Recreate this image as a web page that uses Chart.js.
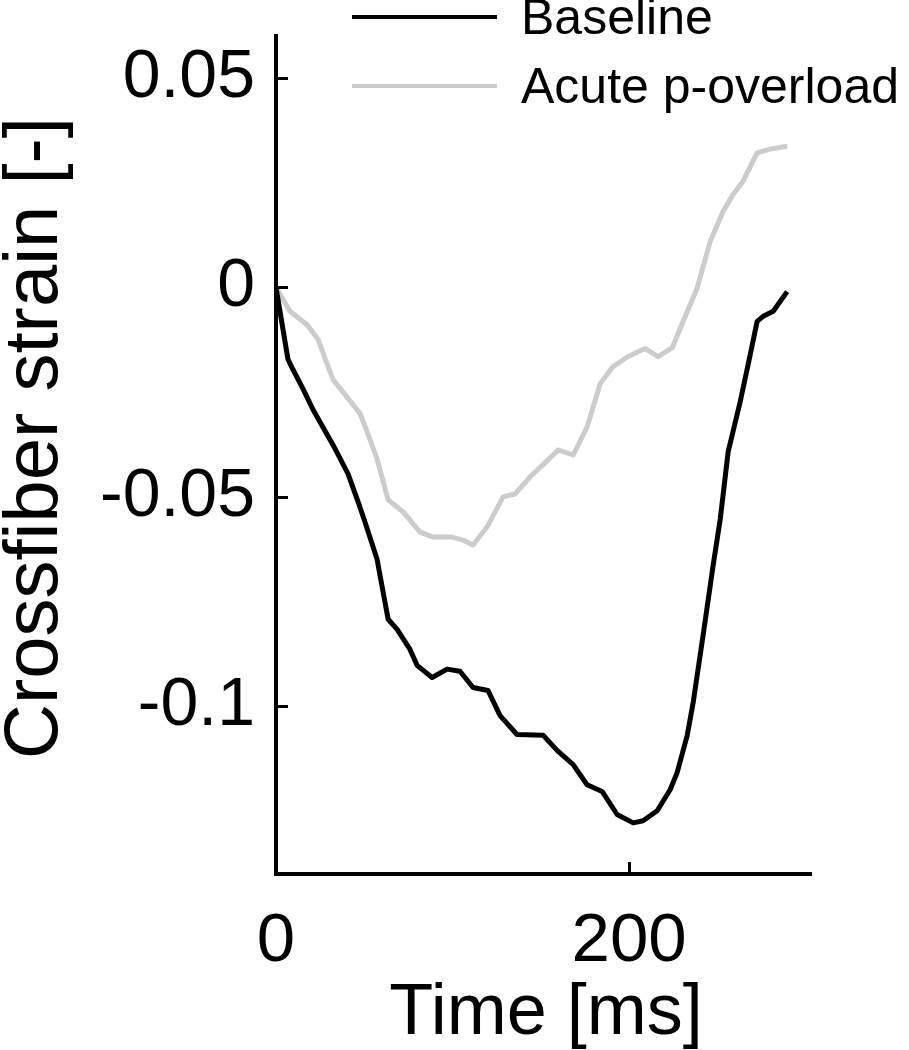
<!DOCTYPE html>
<html>
<head>
<meta charset="utf-8">
<script src="https://cdn.jsdelivr.net/npm/chart.js@4/dist/chart.umd.min.js"></script>
<style>
    html, body { margin: 0; padding: 0; background: #fff; }
    canvas { display: block; }
</style>
</head>
<body>
<canvas id="chart-strain" width="909" height="1050"></canvas>
<script>
// Valores (tiempo en ms, strain adimensional)
const baselineTime = [0, 6.8, 9.6, 15.3, 21.0, 32.3, 40.8, 46.5, 50.4, 57.2, 63.5, 68.6, 75.9, 79.9, 88.4,
    96.9, 104.2, 111.6, 120.1, 126.9, 136.5, 151.3, 159.2, 168.3, 176.2, 184.7, 193.2, 202.3, 207.9,
    215.9, 223.2, 227.2, 232.9, 236.3, 241.9, 247.6, 251.6, 256.1, 262.9, 268.6, 272.5, 275.9, 281.6, 289.5];
const baselineStrain = [0, -0.0172, -0.0196, -0.0242, -0.0292, -0.0376, -0.0445, -0.0512, -0.0560, -0.0648,
    -0.0792, -0.0816, -0.0864, -0.0902, -0.0931, -0.0911, -0.0916, -0.0955, -0.0962, -0.1022, -0.1067,
    -0.1069, -0.1105, -0.1139, -0.1187, -0.1203, -0.1258, -0.1278, -0.1273, -0.1249, -0.1199, -0.1158,
    -0.1069, -0.0990, -0.0830, -0.0663, -0.0553, -0.0392, -0.0273, -0.0160, -0.0081, -0.0069, -0.0057, -0.0010];

const overloadTime = [0, 7.9, 17.6, 23.8, 27.8, 32.3, 39.1, 47.6, 51.6, 57.2, 63.5, 72.0, 81.6, 89.0, 99.7,
    105.9, 111.6, 119.5, 128.6, 135.4, 143.9, 151.3, 159.8, 168.3, 176.2, 183.6, 190.9, 199.4, 209.1,
    216.4, 224.4, 228.9, 238.5, 245.9, 253.3, 258.9, 264.6, 272.5, 279.9, 289.5];
const overloadStrain = [0, -0.0057, -0.0089, -0.0124, -0.0170, -0.0220, -0.0256, -0.0301, -0.0344, -0.0409,
    -0.0507, -0.0536, -0.0584, -0.0596, -0.0596, -0.0603, -0.0615, -0.0572, -0.0500, -0.0493, -0.0452,
    -0.0423, -0.0388, -0.0400, -0.0333, -0.0230, -0.0189, -0.0165, -0.0146, -0.0165, -0.0144, -0.0098,
    -0.0002, 0.0110, 0.0182, 0.0222, 0.0254, 0.0321, 0.0330, 0.0337];

const xTicks = [0, 200];
const yTicks = [-0.1, -0.05, 0, 0.05];
const seriesLabels = ['Baseline', 'Acute p-overload'];
const seriesColors = ['#000000', '#cccccc'];

const FONT = '"Liberation Sans", Arial, Helvetica, sans-serif';

function toPoints(xs, ys) {
    return xs.map((x, i) => ({ x, y: ys[i] }));
}

// Ticks hacia dentro, títulos de ejes y leyenda
const decorPlugin = {
    id: 'decor',
    afterDraw(chart) {
        const ctx = chart.ctx;
        const area = chart.chartArea;
        const xs = chart.scales.x;
        const ys = chart.scales.y;
        ctx.save();
        ctx.strokeStyle = '#000';
        ctx.lineWidth = 3;
        ctx.beginPath();
        yTicks.forEach(v => {
            const py = Math.round(ys.getPixelForValue(v)) + 0.5;
            ctx.moveTo(area.left, py);
            ctx.lineTo(area.left + 12, py);
        });
        xTicks.forEach(v => {
            const px = Math.round(xs.getPixelForValue(v)) + 0.5;
            ctx.moveTo(px, area.bottom);
            ctx.lineTo(px, area.bottom - 12);
        });
        ctx.stroke();

        // Títulos
        ctx.fillStyle = '#000';
        ctx.textAlign = 'center';
        ctx.textBaseline = 'alphabetic';
        ctx.font = '72px ' + FONT;
        ctx.fillText('Time [ms]', 546, 1034);
        ctx.save();
        ctx.translate(57, 438);
        ctx.rotate(-Math.PI / 2);
        ctx.font = '76px ' + FONT;
        ctx.fillText('Crossfiber strain [-]', 0, 0);
        ctx.restore();

        // Leyenda
        const rows = [17, 86];
        ctx.font = '50px ' + FONT;
        ctx.textAlign = 'left';
        ctx.lineWidth = 4;
        seriesLabels.forEach((label, i) => {
            ctx.strokeStyle = seriesColors[i];
            ctx.beginPath();
            ctx.moveTo(352, rows[i]);
            ctx.lineTo(497, rows[i]);
            ctx.stroke();
            ctx.fillText(label, 521, rows[i] + 17);
        });
        ctx.restore();
    }
};

new Chart(document.getElementById('chart-strain'), {
    type: 'line',
    data: {
        datasets: [
            {
                label: seriesLabels[0],
                data: toPoints(baselineTime, baselineStrain),
                borderColor: seriesColors[0],
                borderWidth: 5,
                pointRadius: 0,
                tension: 0,
                borderJoinStyle: 'round'
            },
            {
                label: seriesLabels[1],
                data: toPoints(overloadTime, overloadStrain),
                borderColor: seriesColors[1],
                borderWidth: 5,
                pointRadius: 0,
                tension: 0,
                borderJoinStyle: 'round'
            }
        ]
    },
    options: {
        responsive: false,
        animation: false,
        layout: { padding: { top: 36, right: 98, left: 0, bottom: 0 } },
        plugins: {
            legend: { display: false },
            tooltip: { enabled: false }
        },
        scales: {
            x: {
                type: 'linear',
                min: 0,
                max: 303,
                grid: { display: false, drawTicks: false },
                border: { display: true, color: '#000', width: 4 },
                afterBuildTicks: s => { s.ticks = xTicks.map(v => ({ value: v })); },
                afterFit: s => { s.height = 176; s.paddingLeft = 0; s.paddingRight = 0; },
                ticks: {
                    color: '#000',
                    padding: 27,
                    maxRotation: 0,
                    font: { family: FONT, size: 69 },
                    callback: v => String(v)
                }
            },
            y: {
                type: 'linear',
                min: -0.14,
                max: 0.06,
                grid: { display: false, drawTicks: false },
                border: { display: true, color: '#000', width: 4 },
                afterBuildTicks: s => { s.ticks = yTicks.map(v => ({ value: v })); },
                afterFit: s => { s.width = 276; s.paddingTop = 0; s.paddingBottom = 0; },
                ticks: {
                    color: '#000',
                    padding: 21,
                    font: { family: FONT, size: 68 },
                    callback: v => String(v)
                }
            }
        }
    },
    plugins: [decorPlugin]
});
</script>
</body>
</html>
